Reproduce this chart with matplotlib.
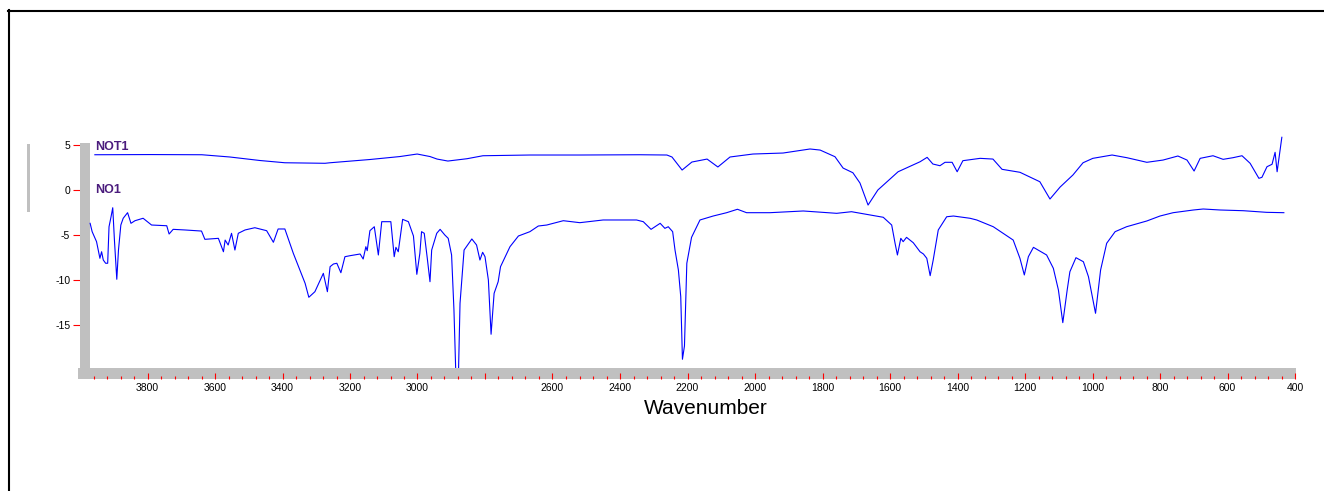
import numpy as np
import matplotlib
matplotlib.use("Agg")
import matplotlib.pyplot as plt
from matplotlib.patches import Rectangle
from matplotlib.lines import Line2D
from matplotlib.ticker import FixedLocator, FixedFormatter

plt.rcParams['font.family'] = ['Liberation Sans', 'DejaVu Sans']

# spectrum NOT1 (upper trace)
wn_not1 = [3956, 3793, 3639, 3556, 3467, 3393, 3274, 3259, 3141, 3052, 3001, 2963,
           2942, 2910, 2853, 2806, 2667, 2519, 2341, 2261, 2246, 2216, 2187, 2142,
           2110, 2074, 2006, 1917, 1837, 1807, 1763, 1739, 1710, 1689, 1665, 1636,
           1576, 1511, 1490, 1473, 1452, 1437, 1416, 1401, 1384, 1333, 1295, 1268,
           1215, 1156, 1126, 1096, 1058, 1028, 999, 942, 898, 839, 791, 747, 720,
           699, 681, 643, 613, 584, 557, 533, 507, 498, 483, 468, 459, 453, 439]
y_not1 = [3.92, 3.94, 3.92, 3.67, 3.28, 3.03, 2.97, 3.03, 3.39, 3.72, 4.0, 3.72,
          3.44, 3.22, 3.48, 3.81, 3.89, 3.89, 3.92, 3.89, 3.67, 2.22, 3.11, 3.44,
          2.56, 3.67, 4.0, 4.11, 4.56, 4.44, 3.7, 2.44, 1.92, 0.78, -1.67, 0.0,
          2.03, 3.14, 3.63, 2.89, 2.7, 3.08, 3.08, 2.03, 3.26, 3.52, 3.44, 2.3,
          1.97, 0.92, -1.0, 0.33, 1.67, 3.03, 3.52, 3.89, 3.59, 3.08, 3.33, 3.78, 3.33,
          2.11, 3.52, 3.81, 3.41, 3.59, 3.81, 2.97, 1.3, 1.41, 2.59, 2.86, 4.19, 2.03, 5.86]

# spectrum NO1 (lower trace)
wn_no1 = [3970, 3964, 3951, 3941, 3936, 3931, 3924, 3918, 3914, 3908, 3903, 3898,
          3891, 3886, 3879, 3872, 3859, 3849, 3837, 3813, 3788, 3743, 3736, 3724,
          3689, 3640, 3630, 3590, 3575, 3570, 3561, 3551, 3541, 3531, 3511, 3482,
          3447, 3427, 3413, 3393, 3368, 3333, 3322, 3304, 3279, 3267, 3259, 3249,
          3239, 3227, 3215, 3200, 3170, 3161, 3153, 3149, 3141, 3128, 3116, 3106,
          3079, 3069, 3064, 3057, 3044, 3027, 3012, 3002, 2993, 2988, 2980, 2971,
          2963, 2958, 2943, 2933, 2919, 2909, 2899, 2892, 2886, 2879, 2874, 2862,
          2839, 2825, 2815, 2807, 2800, 2790, 2782, 2773, 2761, 2754, 2726, 2701,
          2667, 2642, 2617, 2568, 2519, 2450, 2351, 2331, 2308, 2281, 2267, 2257,
          2244, 2237, 2227, 2220, 2215, 2209, 2202, 2188, 2163, 2124, 2084, 2052,
          2025, 1956, 1857, 1758, 1714, 1659, 1620, 1595, 1585, 1578, 1568, 1561,
          1551, 1531, 1511, 1501, 1491, 1481, 1472, 1457, 1432, 1412, 1363, 1343,
          1294, 1235, 1215, 1202, 1190, 1175, 1136, 1116, 1101, 1088, 1075, 1067,
          1049, 1027, 1012, 991, 976, 958, 933, 899, 839, 800, 761, 701, 672, 622,
          553, 484, 433]
y_no1 = [-3.7, -4.63, -5.74, -7.59, -6.86, -7.78, -8.14, -8.14, -4.08, -2.97, -1.97, -5.56,
         -9.92, -6.67, -3.89, -3.14, -2.52, -3.7, -3.41, -3.14, -3.89, -3.97, -4.89, -4.37,
         -4.44, -4.56, -5.48, -5.37, -6.86, -5.56, -6.11, -4.81, -6.67, -4.81, -4.44, -4.19,
         -4.52, -5.81, -4.33, -4.33, -7.03, -10.37, -11.92, -11.3, -9.26, -11.3, -8.52, -8.22,
         -8.14, -9.19, -7.41, -7.3, -7.11, -7.67, -6.3, -6.74, -4.52, -4.08, -7.22, -3.52,
         -3.52, -7.41, -6.37, -6.86, -3.26, -3.52, -5.11, -9.37, -7.03, -4.63, -4.81, -7.59,
         -10.19, -6.67, -4.81, -4.37, -5.0, -5.37, -7.22, -13.33, -21.0, -21.0, -12.59, -6.67,
         -5.44, -6.11, -7.78, -6.92, -7.41, -10.0, -16.03, -11.48, -10.19, -8.52, -6.3, -5.11,
         -4.63, -4.0, -3.89, -3.41, -3.63, -3.33, -3.33, -3.52, -4.37, -3.7, -4.26, -4.08,
         -4.63, -6.67, -8.89, -11.86, -18.81, -17.33, -8.14, -5.26, -3.33, -2.89, -2.52, -2.14,
         -2.52, -2.52, -2.33, -2.59, -2.41, -2.78, -3.03, -3.89, -5.92, -7.22, -5.37, -5.74,
         -5.26, -5.86, -6.86, -7.11, -7.59, -9.52, -7.78, -4.44, -2.97, -2.89, -3.14, -3.33,
         -4.08, -5.56, -7.59, -9.44, -7.41, -6.37, -7.22, -8.7, -11.11, -14.74, -11.11, -9.08,
         -7.52, -7.97, -9.63, -13.7, -8.89, -5.92, -4.63, -4.08, -3.44, -2.89, -2.52, -2.22, -2.11, -2.22,
         -2.3, -2.48, -2.52]

xticks_major = list(range(3800, 399, -200))
xtick_labels = [str(v) if v != 2800 else '' for v in xticks_major]
yticks = [5, 0, -5, -10, -15]

W, H = 1324, 491
fig = plt.figure(figsize=(W / 100, H / 100), dpi=100)
ax = fig.add_axes([80 / W, 1 - 368 / H, 1215 / W, 238 / H])

ax.plot(wn_not1, y_not1, color='#0000ff', lw=0.8, zorder=3)
ax.plot(wn_no1, y_no1, color='#0000ff', lw=0.8, zorder=3)

ax.set_xlim(4000, 400)
ax.set_ylim(-19.78, 6.67)

grey = '#c0c0c0'
# left grey bar inside plot, bottom grey bar below it
ax.add_patch(Rectangle((0, 0), 10 / 1215, 225 / 238, transform=ax.transAxes,
                       color=grey, lw=0, zorder=2))
ax.add_patch(Rectangle((-2 / 1215, -11 / 238), 1218 / 1215, 11 / 238,
                       transform=ax.transAxes, color=grey, lw=0, clip_on=False, zorder=1))

for s in ['top', 'right', 'left', 'bottom']:
    ax.spines[s].set_visible(False)
ax.spines['bottom'].set_position(('outward', 7.9))

ax.xaxis.set_major_locator(FixedLocator(xticks_major))
ax.xaxis.set_major_formatter(FixedFormatter(xtick_labels))
ax.xaxis.set_minor_locator(FixedLocator([v for v in range(3960, 399, -40) if v % 200]))
ax.tick_params(axis='x', which='major', direction='in', length=4.3, width=0.8,
               color='red', labelsize=7.5, pad=3)
ax.tick_params(axis='x', which='minor', direction='in', length=2.2, width=0.8, color='red')

ax.set_yticks(yticks)
ax.set_yticklabels([str(v) for v in yticks])
ax.tick_params(axis='y', direction='out', length=5, width=0.8, color='red',
               labelsize=7.5, pad=2)

fig.text(706 / W, 1 - 408 / H, 'Wavenumber', fontsize=15, ha='center', va='center')

ax.text(15 / 1215, 4.8, 'NOT1', transform=ax.get_yaxis_transform(), fontsize=9,
        fontweight='bold', color='#4b1c7d', va='center', ha='left')
ax.text(15 / 1215, 0.05, 'NO1', transform=ax.get_yaxis_transform(), fontsize=9,
        fontweight='bold', color='#4b1c7d', va='center', ha='left')

# outer frame and the little grey bar at far left
fig.add_artist(Line2D([8 / W, 1], [1 - 10.5 / H, 1 - 10.5 / H], color='black', lw=1.5))
fig.add_artist(Line2D([8.5 / W, 8.5 / W], [0, 1 - 10 / H], color='black', lw=1.5))
fig.add_artist(Rectangle((27 / W, 1 - 212 / H), 3 / W, 68 / H, color=grey, lw=0))

fig.savefig('out.png', dpi=100)
